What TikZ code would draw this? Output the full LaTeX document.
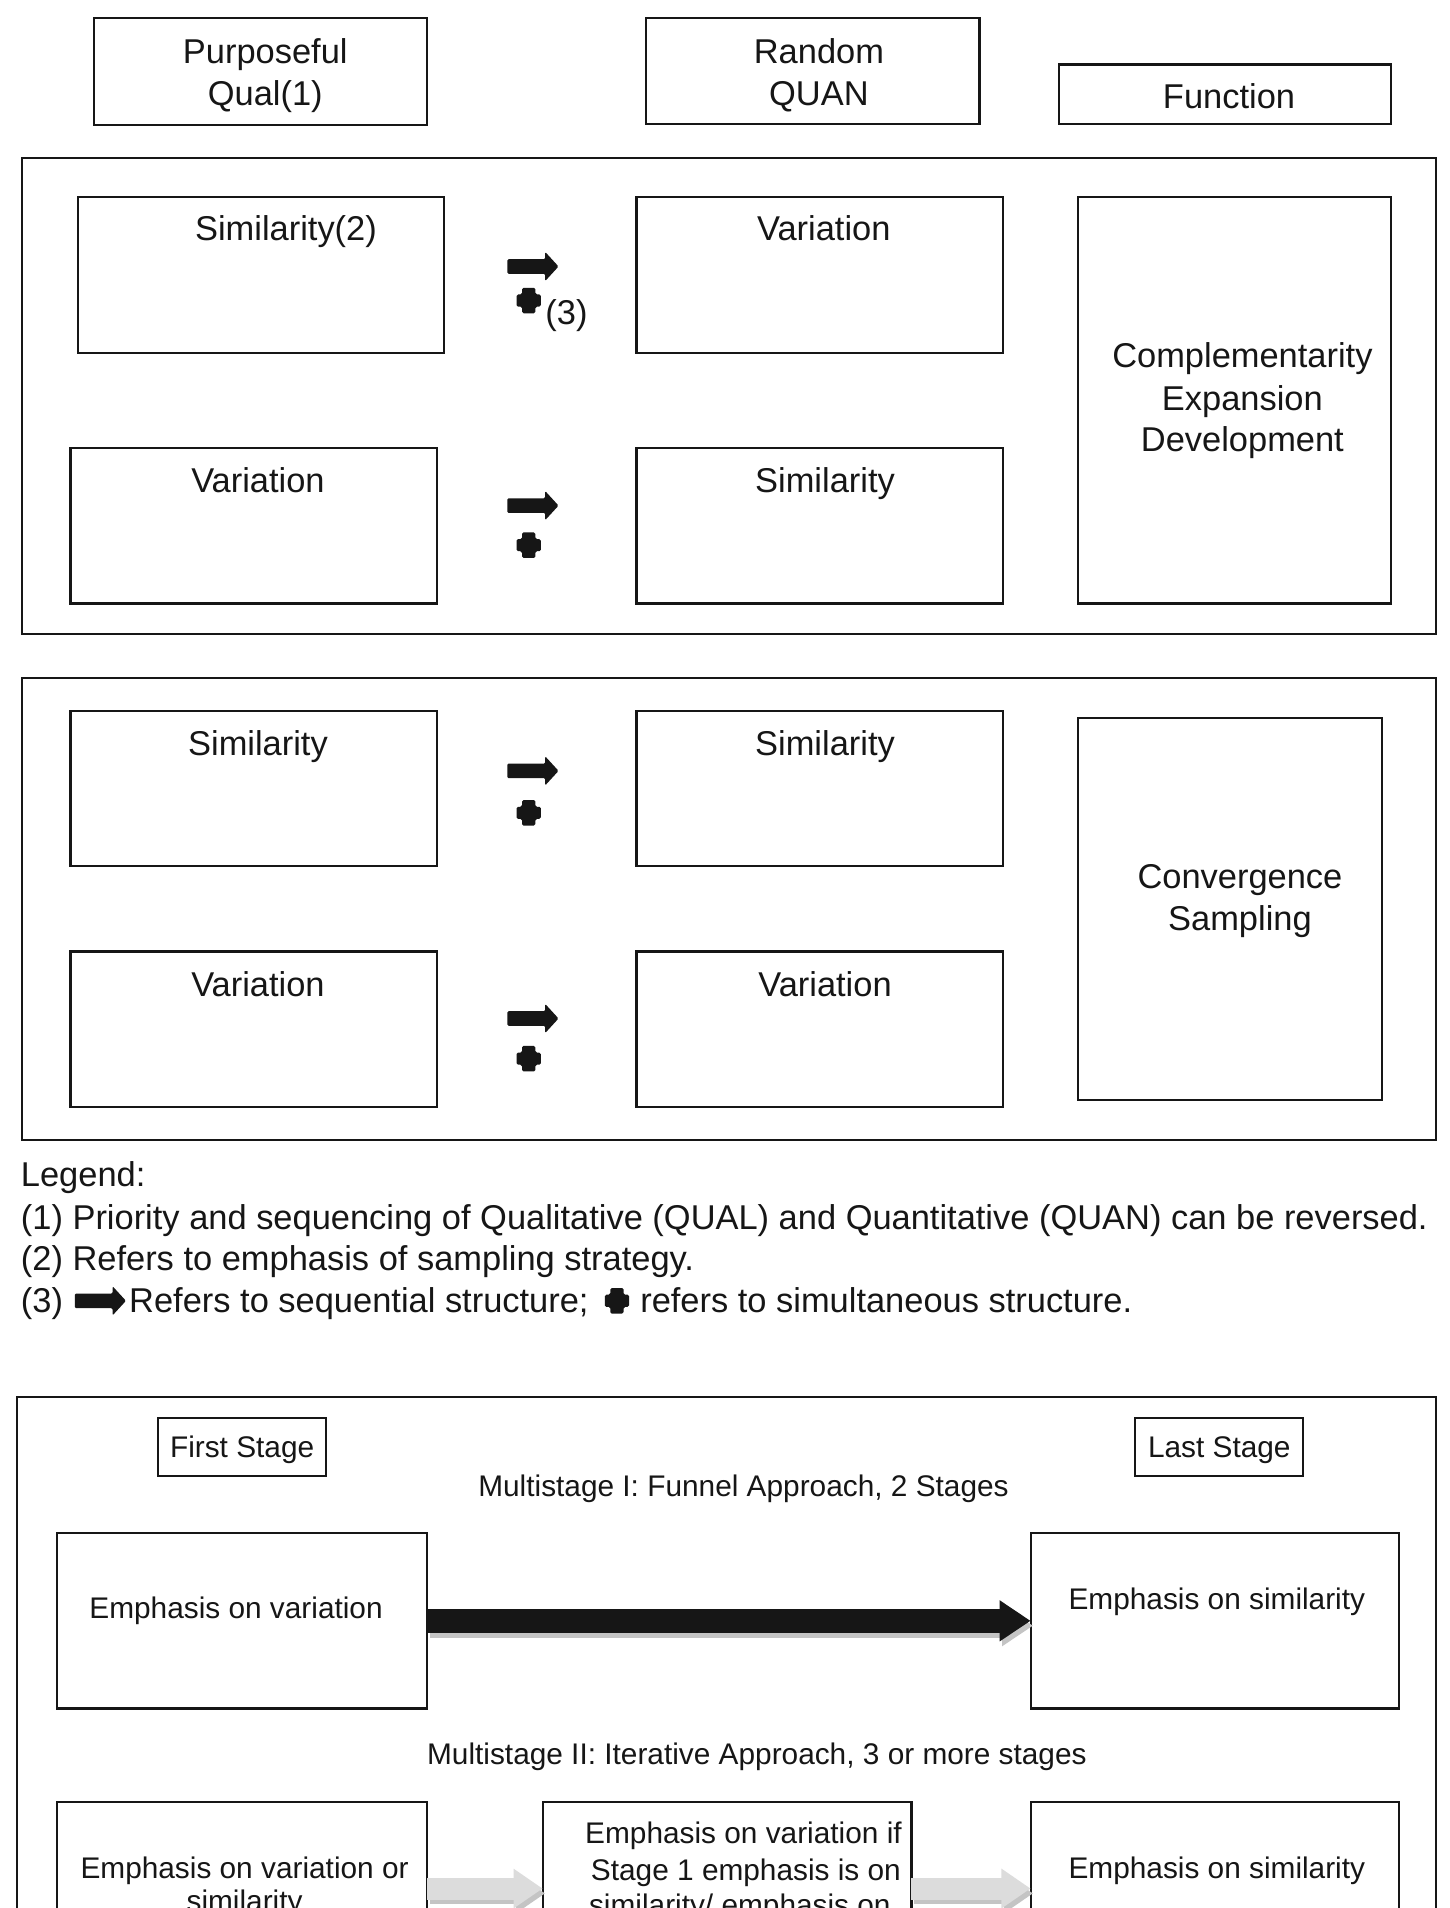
\documentclass[tikz,border=0pt]{standalone}
\usepackage{fontspec}
\setmainfont{Liberation Sans}
\usetikzlibrary{arrows.meta}
\definecolor{inkc}{HTML}{161616}
\definecolor{lightarr}{HTML}{DCDCDC}
\definecolor{shadarr}{HTML}{C4C4C4}
\newcommand{\mkbox}[5]{\node[box, anchor=north west, minimum width=#4pt-#2pt, minimum height=#5pt-#3pt] (#1) at (#2,#3) {};}
\begin{document}
\begin{tikzpicture}[x=1pt,y=-1pt,
  box/.style={draw=inkc, line width=1.8pt, outer sep=0pt, inner sep=0pt, fill=none},
  outerbox/.style={draw=inkc, line width=2pt, outer sep=0pt, inner sep=0pt},
  lab/.style={font=\fontsize{28.3}{34.5}\selectfont, text=inkc, anchor=base, inner sep=0pt},
  llab/.style={lab, anchor=base west},
  slab/.style={font=\fontsize{24.5}{29.5}\selectfont, text=inkc, anchor=base, inner sep=0pt},
  seqarrow/.pic={\fill[inkc, rounded corners=1pt] (-21,-6) -- (10,-6) -- (10,-12) -- (21,0) -- (10,12) -- (10,6) -- (-21,6) -- cycle;},
  simplus/.pic={\fill[inkc, rounded corners=1.3pt] (-5.5,-10.5) -- (5.5,-10.5) -- (5.5,-5) -- (10,-5) -- (10,5) -- (5.5,5) -- (5.5,10.5) -- (-5.5,10.5) -- (-5.5,5) -- (-10,5) -- (-10,-5) -- (-5.5,-5) -- cycle;},
  funnel/.style={line width=20pt, -{Triangle[length=25.5pt, width=32pt]}},
  iter/.style={line width=18pt, -{Triangle[length=24pt, width=31pt]}},
]
\useasboundingbox (0,0) rectangle (1191,1568);
\fill[white] (0,0) rectangle (1191,1568);
\begin{scope}
\clip (0,0) rectangle (1191,1568);

% ---------- header ----------
\mkbox{hq}{77}{15}{351}{103}
\mkbox{hr}{531}{15}{805}{102}
\mkbox{hf}{870}{53}{1143}{102}
\node[lab] (hq1) at (218,52) {Purposeful};
\node[lab] (hq2) at (218,87) {Qual(1)};
\node[lab] (hr1) at (673,52) {Random};
\node[lab] (hr2) at (673,87) {QUAN};
\node[lab] (hf1) at (1010,89) {Function};

% ---------- block 1 ----------
\node[outerbox, anchor=north west, minimum width=1162pt, minimum height=391pt] (o1) at (18,130) {};
\mkbox{a1}{64}{162}{365}{290}
\mkbox{a2}{523}{162}{824}{290}
\mkbox{a3}{58}{368}{359}{496}
\mkbox{a4}{523}{368}{824}{496}
\mkbox{af}{886}{162}{1143}{496}
\node[lab] (ta1) at (235,198) {Similarity(2)};
\node[lab] (ta2) at (677,198) {Variation};
\node[lab] (ta3) at (212,405) {Variation};
\node[lab] (ta4) at (678,405) {Similarity};
\node[lab] (taf1) at (1021,302) {Complementarity};
\node[lab] (taf2) at (1021,337) {Expansion};
\node[lab] (taf3) at (1021,371) {Development};
\pic (s1) at (438,219) {seqarrow};
\pic (p1) at (434.5,247) {simplus};
\node[llab] (n3) at (448,267) {(3)};
\pic (s2) at (438,415.5) {seqarrow};
\pic (p2) at (434.5,448) {simplus};

% ---------- block 2 ----------
\node[outerbox, anchor=north west, minimum width=1162pt, minimum height=380pt] (o2) at (18,557) {};
\mkbox{b1}{58}{584}{359}{712}
\mkbox{b2}{523}{584}{824}{712}
\mkbox{b3}{58}{782}{359}{910}
\mkbox{b4}{523}{782}{824}{910}
\mkbox{bf}{886}{590}{1136}{904}
\node[lab] (tb1) at (212,621) {Similarity};
\node[lab] (tb2) at (678,621) {Similarity};
\node[lab] (tb3) at (212,819) {Variation};
\node[lab] (tb4) at (678,819) {Variation};
\node[lab] (tbf1) at (1019,730) {Convergence};
\node[lab] (tbf2) at (1019,765) {Sampling};
\pic (s3) at (438,633.5) {seqarrow};
\pic (p3) at (434.5,668) {simplus};
\pic (s4) at (438,837) {seqarrow};
\pic (p4) at (434.5,870) {simplus};

% ---------- legend ----------
\node[llab] (lg0) at (17,975) {Legend:};
\node[llab] (lg1) at (17,1010) {(1) Priority and sequencing of Qualitative (QUAL) and Quantitative (QUAN) can be reversed.};
\node[llab] (lg2) at (17,1044) {(2) Refers to emphasis of sampling strategy.};
\node[llab] (lg3a) at (17,1079) {(3)};
\pic (ls) at (82.5,1069) {seqarrow};
\node[llab] (lg3b) at (106,1079) {Refers to sequential structure;};
\pic (lp) at (507,1069) {simplus};
\node[llab] (lg3c) at (526,1079) {refers to simultaneous structure.};

% ---------- multistage block ----------
\node[outerbox, anchor=north west, minimum width=1166pt, minimum height=700pt] (o3) at (14,1148) {};
\mkbox{fs}{130}{1165}{268}{1213}
\mkbox{ls}{933}{1165}{1071}{1213}
\node[slab] (tfs) at (199,1198) {First Stage};
\node[slab] (tls) at (1002,1198) {Last Stage};
\node[slab] (m1) at (611,1230) {Multistage I: Funnel Approach, 2 Stages};
\mkbox{ev}{47}{1260}{351}{1404}
\mkbox{es}{847}{1260}{1150}{1404}
\node[slab] (tev) at (194,1330) {Emphasis on variation};
\node[slab] (tes) at (1000,1323) {Emphasis on similarity};
\draw[funnel, draw=shadarr, fill=shadarr] ([xshift=2pt,yshift=-4pt]ev.east) -- ([xshift=2pt,yshift=-4pt]es.west);
\draw[funnel, draw=inkc, fill=inkc] (ev.east) -- (es.west);
\node[slab] (m2) at (622,1450) {Multistage II: Iterative Approach, 3 or more stages};
\mkbox{c1}{47}{1481}{351}{1800}
\mkbox{c2}{446}{1481}{749}{1800}
\mkbox{c3}{847}{1481}{1150}{1800}
\node[slab] (tc1a) at (201,1544) {Emphasis on variation or};
\node[slab] (tc1b) at (201,1571) {similarity};
\node[slab] (tc2a) at (611,1515) {Emphasis on variation if};
\node[slab] (tc2b) at (613,1545) {Stage 1 emphasis is on};
\node[slab] (tc2c) at (608,1574) {similarity/ emphasis on};
\node[slab] (tc3a) at (1000,1544) {Emphasis on similarity};
\draw[iter, draw=shadarr, fill=shadarr] ([xshift=2pt,yshift=-75pt]c1.north east) -- ([xshift=2pt,yshift=-75pt]c2.north west);
\draw[iter, draw=lightarr, fill=lightarr] ([yshift=-71pt]c1.north east) -- ([yshift=-71pt]c2.north west);
\draw[iter, draw=shadarr, fill=shadarr] ([xshift=2pt,yshift=-75pt]c2.north east) -- ([xshift=2pt,yshift=-75pt]c3.north west);
\draw[iter, draw=lightarr, fill=lightarr] ([yshift=-71pt]c2.north east) -- ([yshift=-71pt]c3.north west);
\end{scope}
\end{tikzpicture}
\end{document}
